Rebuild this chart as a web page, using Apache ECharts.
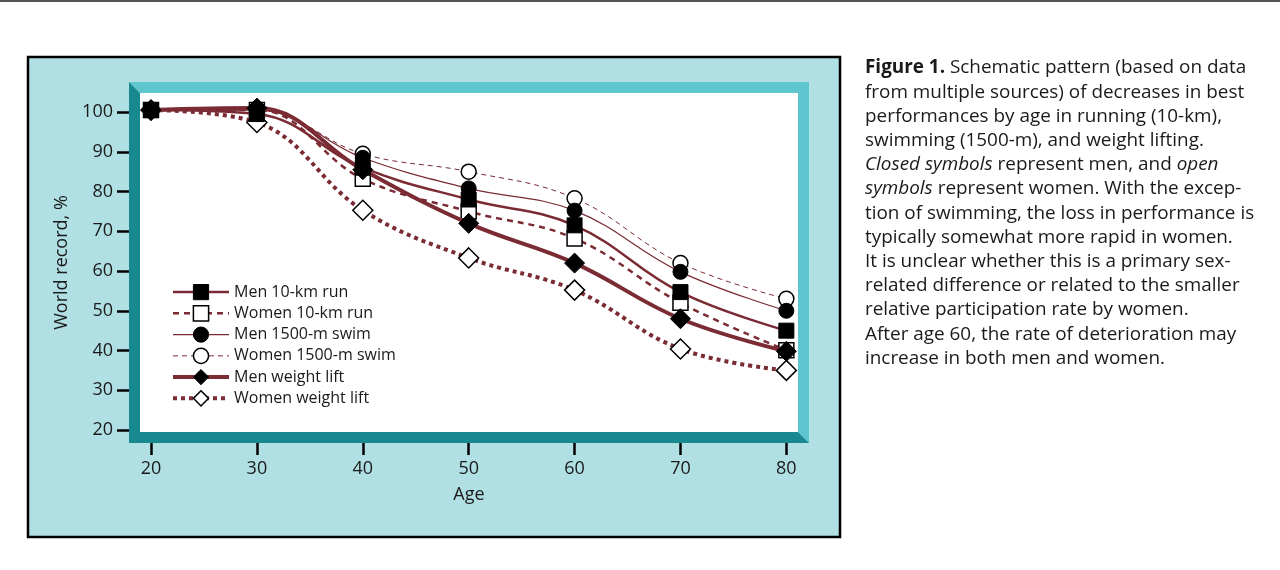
<!DOCTYPE html>
<html>
<head>
<meta charset="utf-8">
<script src="https://cdn.jsdelivr.net/npm/echarts@6/dist/echarts.min.js"></script>
<style>
html,body{margin:0;padding:0;background:#fff;}
#chart{width:1280px;height:570px;}
</style>
</head>
<body>
<div id="chart"></div>
<script>
const ages = [20, 30, 40, 50, 60, 70, 80];
const menRun    = [100.5, 99.5, 86.0, 78.0, 71.5, 54.7, 45.0];
const womenRun  = [100.5, 100.5, 83.2, 75.0, 68.2, 52.0, 40.1];
const menSwim   = [100.5, 100.5, 88.5, 80.8, 75.2, 59.8, 50.0];
const womenSwim = [100.5, 100.5, 89.5, 85.0, 78.3, 62.0, 53.0];
const menLift   = [100.5, 101.0, 85.5, 72.0, 62.0, 48.0, 39.8];
const womenLift = [100.5, 97.4, 75.3, 63.3, 55.2, 40.4, 35.0];
const seriesNames = ['Men 10-km run', 'Women 10-km run', 'Men 1500-m swim', 'Women 1500-m swim', 'Men weight lift', 'Women weight lift'];
const yTicks = [20, 30, 40, 50, 60, 70, 80, 90, 100];
const xTicks = [20, 30, 40, 50, 60, 70, 80];
const captionLines = [
  '{b|Figure 1.} Schematic pattern (based on data',
  'from multiple sources) of decreases in best',
  'performances by age in running (10-km),',
  'swimming (1500-m), and weight lifting.',
  '{i|Closed symbols} represent men, and {i|open}',
  '{i|symbols} represent women. With the excep-',
  'tion of swimming, the loss in performance is',
  'typically somewhat more rapid in women.',
  'It is unclear whether this is a primary sex-',
  'related difference or related to the smaller',
  'relative participation rate by women.',
  'After age 60, the rate of deterioration may',
  'increase in both men and women.'
];

const FONT = 'Open Sans';
const MAROON = '#7a2b33';
const CAP = 18.9;
const pair = arr => ages.map((a, i) => [a, arr[i]]);

const styles = [
  { symbol: 'rect',    filled: true,  width: 2.5, type: 'solid', size: 15 },
  { symbol: 'rect',    filled: false, width: 2.5, type: [6, 5],  size: 15 },
  { symbol: 'circle',  filled: true,  width: 1.2, type: 'solid', size: 15 },
  { symbol: 'circle',  filled: false, width: 1,   type: [5, 4],  size: 15 },
  { symbol: 'diamond', filled: true,  width: 4,   type: 'solid', size: 20 },
  { symbol: 'diamond', filled: false, width: 4,   type: [4, 4],  size: 20 }
];
const seriesData = [menRun, womenRun, menSwim, womenSwim, menLift, womenLift];

const itemStyleOf = s => s.filled ? { color: '#000', borderColor: '#000', borderWidth: 1 }
                                  : { color: '#fff', borderColor: '#000', borderWidth: 1.5 };

const chart = echarts.init(document.getElementById('chart'));
const graphics = [
  { type: 'rect', z: -10, shape: { x: 0, y: 0, width: 1280, height: 2 }, style: { fill: '#555' } },
  { type: 'rect', z: -10, shape: { x: 28, y: 57, width: 812, height: 480 }, style: { fill: '#b1e0e4', stroke: '#000', lineWidth: 2.5 } },
  { type: 'rect', z: -9, shape: { x: 140, y: 93, width: 658, height: 339 }, style: { fill: '#fff' } },
  { type: 'polygon', z: 100, shape: { points: [[129,82],[809,82],[809,443],[798,432],[798,93],[140,93]] }, style: { fill: '#5ec6cf' } },
  { type: 'polygon', z: 100, shape: { points: [[129,82],[140,93],[140,432],[798,432],[809,443],[129,443]] }, style: { fill: '#188a8f' } }
];
captionLines.forEach((t, i) => {
  graphics.push({
    type: 'text', z: 100, x: 865, y: 68 + 24.2 * i,
    style: {
      text: t, fill: '#1a1a1a', font: CAP + 'px "' + FONT + '"', verticalAlign: 'middle', align: 'left',
      rich: {
        b: { fontWeight: 'bold', fontFamily: FONT, fontSize: CAP, fill: '#1a1a1a' },
        i: { fontStyle: 'italic', fontFamily: FONT, fontSize: CAP, fill: '#1a1a1a' }
      }
    }
  });
});

chart.setOption({
  animation: false,
  backgroundColor: 'transparent',
  textStyle: { fontFamily: FONT },
  graphic: graphics,
  grid: { left: 140, top: 93, right: 482, bottom: 138, containLabel: false },
  legend: {
    orient: 'vertical', left: 166, top: 279, itemWidth: 56, itemHeight: 19, itemGap: 4.8,
    data: seriesNames.map((n, i) => ({
      name: n,
      lineStyle: { color: MAROON, width: styles[i].width, type: styles[i].type },
      itemStyle: itemStyleOf(styles[i])
    })),
    selectedMode: false,
    textStyle: { fontFamily: FONT, fontSize: 16, color: '#1a1a1a', padding: [0, 0, 0, 0] }
  },
  xAxis: {
    type: 'value', min: 18.96, max: 81.1,
    name: 'Age', nameLocation: 'middle', nameGap: 54,
    nameTextStyle: { fontFamily: FONT, fontSize: 18, color: '#1a1a1a' },
    axisLine: { show: false }, splitLine: { show: false },
    axisTick: { show: true, customValues: xTicks, length: 23, lineStyle: { color: '#000', width: 2.5 } },
    axisLabel: { customValues: xTicks, margin: 28, fontFamily: FONT, fontSize: 18, color: '#1a1a1a' }
  },
  yAxis: {
    type: 'value', min: 19.5, max: 104.8,
    name: 'World record, %', nameLocation: 'middle', nameGap: 52, nameRotate: 90,
    nameTextStyle: { fontFamily: FONT, fontSize: 18, color: '#1a1a1a' },
    axisLine: { show: false }, splitLine: { show: false },
    axisTick: { show: true, customValues: yTicks, length: 23, lineStyle: { color: '#000', width: 2.5 } },
    axisLabel: { customValues: yTicks, margin: 27, fontFamily: FONT, fontSize: 18, color: '#1a1a1a' }
  },
  series: seriesNames.map((n, i) => ({
    name: n, type: 'line', data: pair(seriesData[i]), smooth: 0.4,
    symbol: styles[i].symbol, symbolSize: styles[i].size, z: styles[i].filled ? 5 : 4,
    lineStyle: { color: MAROON, width: styles[i].width, type: styles[i].type },
    itemStyle: itemStyleOf(styles[i]),
    emphasis: { disabled: true }
  }))
});
</script>
</body>
</html>
